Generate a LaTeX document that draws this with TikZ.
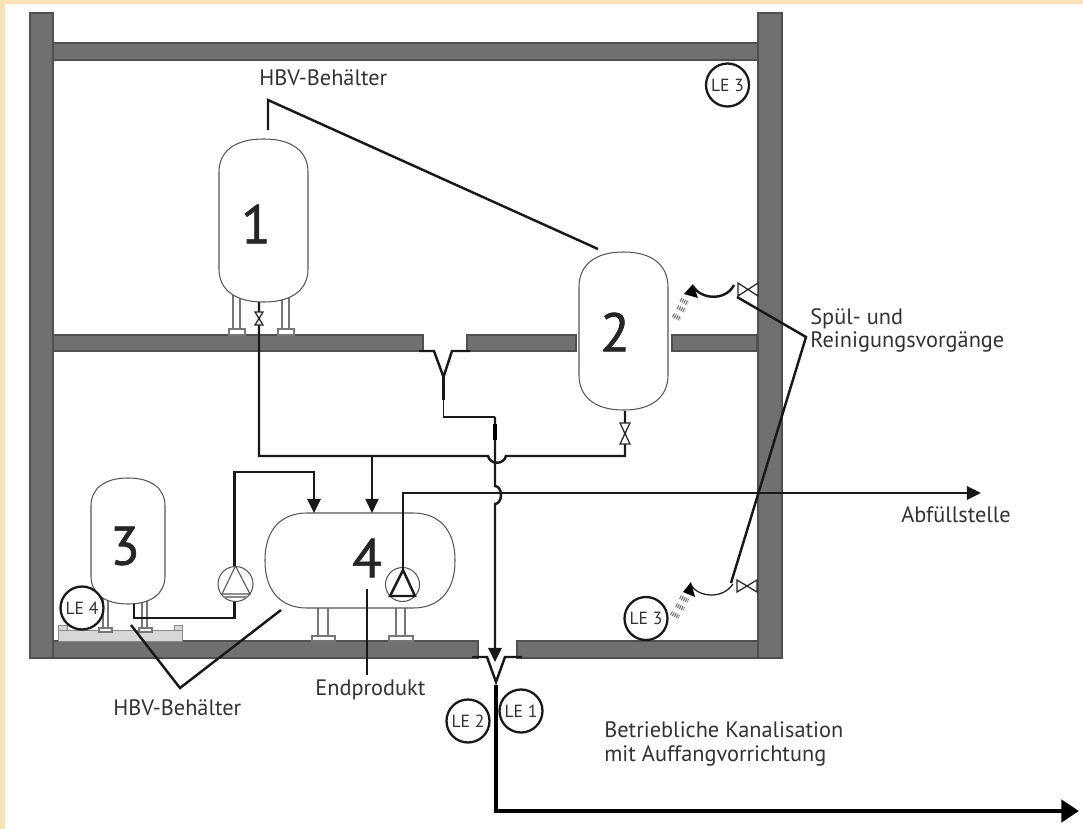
\documentclass[tikz,border=0pt]{standalone}
\usepackage{fontspec}
\setmainfont{PT Sans}
\newfontfamily\numfont[FakeBold=1.2]{PT Sans}
\usepackage{xcolor}
\definecolor{plcream}{RGB}{249,226,180}
\definecolor{plwall}{RGB}{112,112,112}
\definecolor{pledge}{RGB}{80,80,80}
\definecolor{plbase}{RGB}{215,215,215}
\definecolor{pltext}{RGB}{50,50,50}
\definecolor{pltank}{RGB}{85,85,85}
\usetikzlibrary{arrows.meta, positioning, shapes.geometric, calc}
\tikzset{
  wall/.style={fill=plwall, draw=pledge, line width=0.6pt},
  tankline/.style={draw=pltank, fill=white, line width=0.6pt},
  tankbox/.style={inner sep=0pt, outer sep=0pt},
  legline/.style={draw=pltank!80, fill=white, line width=0.6pt},
  pipe/.style={line width=1.4pt, black!90},
  thinpipe/.style={line width=0.7pt, black!90},
  drain/.style={line width=2.8pt, black},
  leader/.style={line width=1.4pt, black!90},
  pipehead/.style={-{Triangle[length=8pt,width=7.5pt]}},
  lecircle/.style={circle, draw=black!90, line width=1.3pt, fill=white, minimum size=0.86cm, inner sep=0pt, font=\fontsize{10}{11}\selectfont, text=pltext},
  pumpcircle/.style={circle, draw=pltank, line width=0.6pt, fill=white, inner sep=0pt},
  sign/.style={font=\fontsize{12.7}{15}\selectfont, text=pltext, inner sep=0pt, anchor=west},
  number/.style={font=\numfont\fontsize{31}{31}\selectfont, text=black!85, inner sep=0pt},
  valveline/.style={draw=black!85, fill=white, line width=0.7pt},
  sprayline/.style={line width=2.4pt, black!55, dash pattern=on 0.6pt off 0.6pt}
}
% name, centre x, centre y, half width, half height, corner radii
\newcommand{\plantank}[7]{%
  \node[tankbox, minimum width=#4*0.04cm, minimum height=#5*0.04cm] (#1) at (#2,#3) {};
  \pgfmathsetmacro{\tl}{#2-#4}\pgfmathsetmacro{\tr}{#2+#4}
  \pgfmathsetmacro{\tt}{#3-#5}\pgfmathsetmacro{\tb}{#3+#5}
  \draw[tankline] (\tl,{\tt+#7}) .. controls (\tl,{\tt+0.37*#7}) and ({\tl+0.37*#6},\tt) .. ({\tl+#6},\tt)
    -- ({\tr-#6},\tt) .. controls ({\tr-0.37*#6},\tt) and (\tr,{\tt+0.37*#7}) .. (\tr,{\tt+#7})
    -- (\tr,{\tb-#7}) .. controls (\tr,{\tb-0.37*#7}) and ({\tr-0.37*#6},\tb) .. ({\tr-#6},\tb)
    -- ({\tl+#6},\tb) .. controls ({\tl+0.37*#6},\tb) and (\tl,{\tb-0.37*#7}) .. (\tl,{\tb-#7}) -- cycle;
}
\begin{document}
\begin{tikzpicture}[x=0.02cm, y=-0.02cm]
  \useasboundingbox (0,0) rectangle (1083,829);
  % Page
  \fill[plcream] (0,0) rectangle (1083,829);
  \fill[white] (5,4) rectangle (1083,829);

  % Walls and slabs
  \draw[wall] (53,43) rectangle (758,60);
  \draw[wall] (53,335) rectangle (423,351);
  \draw[wall] (467,335) rectangle (576,351);
  \draw[wall] (672,335) rectangle (757,351);
  \draw[wall] (53,641) rectangle (478,658);
  \draw[wall] (517,641) rectangle (758,658);
  \draw[wall] (30,13) rectangle (53,658);
  \draw[wall] (758,13) rectangle (782,658);

  % Base plate below tank 3
  \draw[fill=plbase, draw=pltank!70, line width=0.5pt] (58,630) rectangle (182,641);
  \draw[fill=plbase, draw=pltank!70, line width=0.5pt] (58,625) rectangle (67,630);
  \draw[fill=plbase, draw=pltank!70, line width=0.5pt] (174,625) rectangle (182,630);

  % Legs tank 1
  \draw[legline] (233,295) rectangle (240,329);
  \draw[legline] (229,329) rectangle (245,335);
  \draw[legline] (282,295) rectangle (289,329);
  \draw[legline] (278,329) rectangle (294,335);
  % Legs tank 3
  \draw[legline] (103,598) rectangle (108,628);
  \draw[legline] (99,628) rectangle (112,632);
  \draw[legline] (142,598) rectangle (147,628);
  \draw[legline] (139,628) rectangle (152,632);
  % Legs tank 4
  \draw[legline] (318,602) rectangle (328,636);
  \draw[legline] (312,636) rectangle (335,641);
  \draw[legline] (396,602) rectangle (405,636);
  \draw[legline] (389,636) rectangle (413,641);

  % Tanks
  \plantank{tankA}{263.5}{220.5}{44.5}{81.5}{44}{33}
  \plantank{tankB}{623.5}{331}{44.5}{79}{44}{35}
  \plantank{tankC}{128}{541}{37}{63}{37}{28}
  \plantank{tankD}{360}{560.5}{95}{47.5}{42}{47}
  \node[number] (numA) at (256,224) {1};
  \node[number] (numB) at (615,332) {2};
  \node[number] (numC) at (125,546) {3};
  \node[number] (numD) at (367,558) {4};

  % Pumps
  \node[pumpcircle, minimum size=0.70cm] (pumpC) at (235.5,584) {};
  \node[pumpcircle, minimum size=0.68cm] (pumpD) at (402.5,584.5) {};
  \draw[draw=pltank, line width=0.6pt] (pumpC.north) -- (222,594) -- (250,594) -- cycle;
  \draw[draw=pltank!70, line width=0.6pt] (224,597) -- (247,597);

  % Branch to funnel and drain line
  \draw[thinpipe] (443.5,377) -- (443.5,417) -- (495,417);
  \draw[pipe] (443.5,377) -- (443.5,400);
  \coordinate (drainTop) at (495,417);
  \coordinate (drainEnd) at (495,662);
  \draw[pipe, pipehead] (drainTop) -- (495,486) arc (-90:90:6 and 9) -- (drainEnd);
  \draw[line width=2.2pt, black] (495,424) -- (495,440);

  % Collecting pipe below tanks 1 and 2
  \coordinate (pipeA) at (259,456);
  \coordinate (pipeB) at (625,456);
  \draw[pipe] (259,302) -- (pipeA) -- (488,456) .. controls (490,465) and (504,465) .. (506,456) -- (pipeB) -- (625,411);
  \draw[thinpipe, pipehead] (372,456) -- (tankD.north -| 372,0);

  % Pump 3 to tank 4
  \draw[pipe] (134,604) -- (134,618) -- (234.5,618) -- (pumpC.south -| 234.5,0);
  \draw[pipe, pipehead] (pumpC.north -| 234.5,0) -- (234.5,472) -- (314,472) -- (tankD.north -| 314,0);

  % Pump 4 to filling point
  \coordinate (fillEnd) at (981,493);
  \draw[pipe, pipehead] (403,572) -- (403,493) -- (fillEnd);
  \draw[pipe] (403,570) -- (390,596) -- (415,596) -- cycle;

  % Valves on the pipes
  \draw[valveline] (255,312) -- (263,312) -- (255,325) -- (263,325) -- cycle;
  \draw[valveline] (620,423) -- (630,423) -- (620,444) -- (630,444) -- cycle;
  \draw[valveline] (738,283) -- (738,296) -- (758,283) -- (758,296) -- cycle;
  \draw[valveline] (737,580) -- (737,592) -- (757,580) -- (757,592) -- cycle;

  % Funnels
  \draw[pipe] (419,351) -- (434,351) -- (443.5,377) -- (452,351) -- (470,351);
  \draw[pipe] (472,657) -- (487,657) -- (496,682) -- (505,657) -- (522,657);

  % Sewer
  \coordinate (sewerEnd) at (1079,811);
  \draw[drain, -{Triangle[length=10pt,width=12.5pt]}] (496,685) -- (496,811) -- (sewerEnd);

  % Hose and spray, top
  \fill[black] (693,284) -- (698,298) -- (684,294) -- cycle;
  \draw[pipe] (693,286) .. controls (700,299) and (725,302) .. (734,285);
  \draw[sprayline] (680.5,299.5) -- (688,303.5);
  \draw[sprayline] (677.5,307) -- (685,311);
  \draw[sprayline] (673,315) -- (680.5,319);
  % Hose and spray, bottom
  \fill[black] (691,582) -- (695,597) -- (683,592) -- cycle;
  \draw[thinpipe] (691,585) .. controls (698,597) and (722,600) .. (733,584);
  \draw[sprayline] (680,597) -- (688,601);
  \draw[sprayline] (676,605) -- (684,609);
  \draw[sprayline] (671,613) -- (679,617);

  % Leader lines
  \draw[leader] (268,130) -- (268,100) -- (598,249);
  \draw[leader] (131,625) -- (180,688) -- (281,610);
  \draw[leader] (367,589) -- (367,675);
  \draw[leader] (737,297) -- (806,337) -- (731,583);

  % Leakage marks
  \node[lecircle] (leThreeTop) at (727.5,85) {LE 3};
  \node[lecircle] (leThreeLow) at (646,618.5) {LE 3};
  \node[lecircle] (leOne) at (521,711) {LE 1};
  \node[lecircle] (leTwo) at (468,721) {LE 2};
  \node[lecircle] (leFour) at (82,608) {LE 4};

  % Texts
  \node[sign] (hbvTop) at (259,78) {HBV-Behälter};
  \node[sign] (hbvLow) at (113,708) {HBV-Behälter};
  \node[sign] (endprod) at (315,690) {Endprodukt};
  \node[sign] (fillText) at (901,515) {Abfüllstelle};
  \node[sign] (rinseA) at (810,319) {Spül- und};
  \node[sign] (rinseB) at (810,342) {Reinigungsvorgänge};
  \node[sign] (sewerA) at (604,730) {Betriebliche Kanalisation};
  \node[sign] (sewerB) at (604,756) {mit Auffangvorrichtung};
\end{tikzpicture}
\end{document}
